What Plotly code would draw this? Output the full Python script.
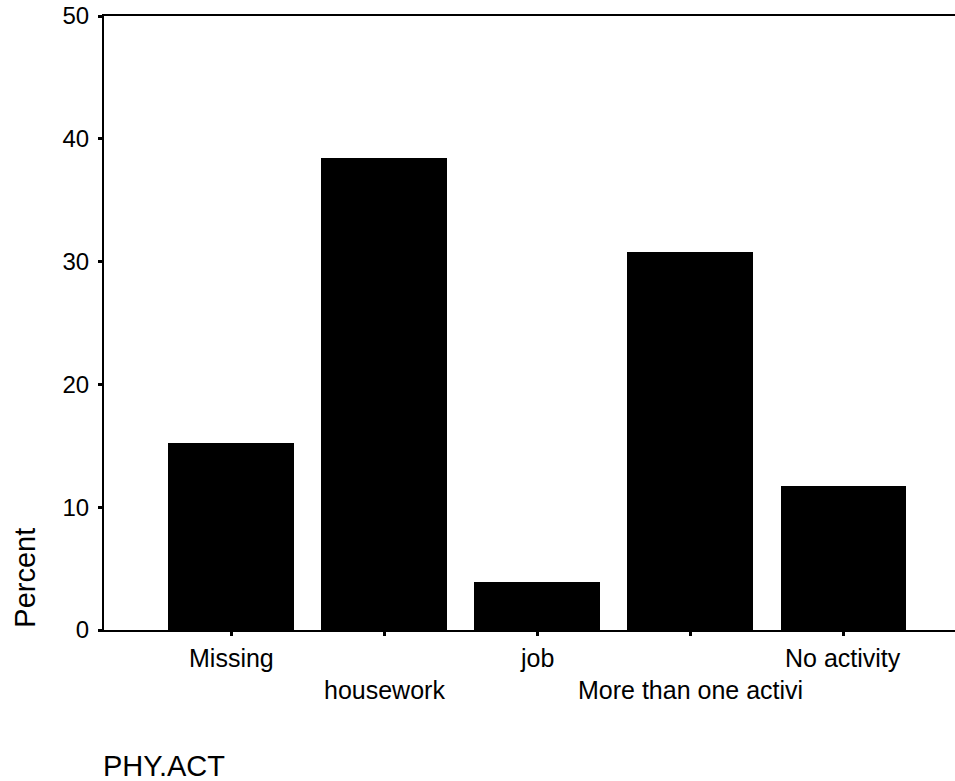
import plotly.graph_objects as go

categories = ["Missing", "housework", "job", "More than one activi", "No activity"]
percent = [15.2, 38.4, 3.9, 30.8, 11.7]
y_ticks = [0, 10, 20, 30, 40, 50]

fig = go.Figure()
fig.add_trace(go.Bar(
    x=list(range(len(categories))), y=percent,
    marker=dict(color="black", line=dict(width=0)),
    width=0.82,
))

FONT = "Liberation Sans, Arial, sans-serif"

# staggered category labels
for i, c in enumerate(categories):
    fig.add_annotation(x=i, y=0, xref="x", yref="y", text=c, showarrow=False,
                       yanchor="middle", yshift=-28 if i % 2 == 0 else -60,
                       font=dict(family=FONT, size=25, color="black"))

fig.add_annotation(x=-0.093, y=0.085, xref="paper", yref="paper", text="Percent",
                   textangle=-90, showarrow=False, xanchor="center", yanchor="middle",
                   font=dict(family=FONT, size=29, color="black"))
fig.add_annotation(x=-0.003, y=-0.221, xref="paper", yref="paper", text="PHY.ACT",
                   showarrow=False, xanchor="left", yanchor="middle",
                   font=dict(family=FONT, size=29, color="black"))

fig.update_layout(
    width=955, height=781,
    margin=dict(l=104, r=0, t=16, b=151, autoexpand=False),
    paper_bgcolor="white", plot_bgcolor="white",
    showlegend=False,
    bargap=0,
)
fig.update_xaxes(range=[-0.83, 4.73], showline=True, linecolor="black", linewidth=2,
                 mirror=True, ticks="outside", ticklen=4, tickwidth=3, tickcolor="black",
                 tickvals=list(range(len(categories))), showticklabels=False,
                 showgrid=False, zeroline=False, automargin=False)
fig.update_yaxes(range=[0, 50], showline=True, linecolor="black", linewidth=2,
                 ticks="outside", ticklen=4, tickwidth=3, tickcolor="black",
                 tickvals=y_ticks, showgrid=False, zeroline=False, automargin=False,
                 ticklabelstandoff=4, ticklabeloverflow="allow",
                 tickfont=dict(family=FONT, size=24, color="black"))

fig.write_html(
    "out.html",
    config={"displayModeBar": False},
    post_script="document.body.style.margin='0';document.body.style.overflow='hidden';",
)
